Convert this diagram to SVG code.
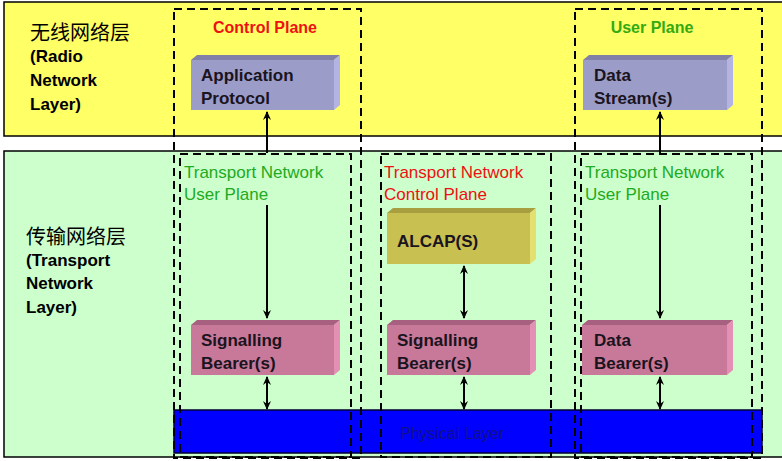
<svg xmlns="http://www.w3.org/2000/svg" width="782" height="461" viewBox="0 0 782 461">
<defs>
<style>
.band{stroke:#000;stroke-width:1.5}
.dash{fill:none;stroke:#000;stroke-width:2;stroke-dasharray:8 5}
.lbl{font-family:"Liberation Sans",Arial,"Noto Sans CJK SC",sans-serif;font-size:17px;font-weight:bold;fill:#000}
.cjk{font-family:"Noto Sans CJK SC","Liberation Sans",sans-serif;font-size:20px;fill:#000}
.btxt{font-family:"Liberation Sans",Arial,sans-serif;font-size:17px;font-weight:bold;fill:#1a1420}
.tn{font-family:"Liberation Sans",Arial,sans-serif;font-size:17px}
.conn line{stroke:#000;stroke-width:2}
</style>
<marker id="ah" markerWidth="10" markerHeight="10" refX="8" refY="5" orient="auto-start-reverse" markerUnits="userSpaceOnUse">
<path d="M0,1 L9,5 L0,9 L3,5 Z" fill="#000"/>
</marker>
</defs>
<rect x="0" y="0" width="782" height="461" fill="#fff"/>
<g id="radio-layer">
<rect class="band" x="4" y="2" width="780" height="134" fill="#ffff66"/>
<text class="cjk" x="30" y="40">无线网络层</text>
<text class="lbl" x="30" y="62">(Radio</text>
<text class="lbl" x="30" y="86">Network</text>
<text class="lbl" x="30" y="110">Layer)</text>
</g>
<g id="transport-layer">
<rect class="band" x="4" y="151" width="780" height="306" fill="#ccffcc"/>
<text class="cjk" x="26" y="244">传输网络层</text>
<text class="lbl" x="26" y="266">(Transport</text>
<text class="lbl" x="26" y="289">Network</text>
<text class="lbl" x="26" y="313">Layer)</text>
</g>
<g id="physical-layer">
<rect x="174" y="410" width="588" height="43" fill="#0000ff" stroke="#000033" stroke-width="1.5"/>
<text x="452" y="439" text-anchor="middle" font-family="Liberation Sans,Arial,sans-serif" font-size="16" fill="#10108a">Physical Layer</text>
</g>
<g id="control-plane">
<rect class="dash" x="174" y="9" width="187" height="449"/>
<text x="265" y="33" text-anchor="middle" font-family="Liberation Sans,Arial,sans-serif" font-size="16" font-weight="bold" fill="#ee1111">Control Plane</text>
</g>
<g id="user-plane">
<rect class="dash" x="575" y="9" width="187" height="449"/>
<text x="652" y="33" text-anchor="middle" font-family="Liberation Sans,Arial,sans-serif" font-size="16" font-weight="bold" fill="#33aa11">User Plane</text>
</g>
<g id="tn-user-plane-1">
<rect class="dash" x="180" y="154" width="171" height="303"/>
<text class="tn" x="184" y="178" fill="#22aa22">Transport Network</text>
<text class="tn" x="184" y="200" fill="#22aa22">User Plane</text>
</g>
<g id="tn-control-plane">
<rect class="dash" x="381" y="154" width="170" height="303"/>
<text class="tn" x="384" y="178" fill="#ee1111">Transport Network</text>
<text class="tn" x="384" y="200" fill="#ee1111">Control Plane</text>
</g>
<g id="tn-user-plane-2">
<rect class="dash" x="581" y="154" width="171" height="303"/>
<text class="tn" x="585" y="178" fill="#22aa22">Transport Network</text>
<text class="tn" x="585" y="200" fill="#22aa22">User Plane</text>
</g>
<g id="application-protocol">
<rect x="191" y="60" width="143" height="50" fill="#9c9cc8"/>
<polygon points="191,60 197,55 340,55 334,60" fill="#8080a8"/>
<polygon points="334,60 340,55 340,105 334,110" fill="#b4b4e4"/>
<text class="btxt" x="201" y="81">Application</text>
<text class="btxt" x="201" y="104">Protocol</text>
</g>
<g id="data-stream">
<rect x="583" y="60" width="144" height="50" fill="#9c9cc8"/>
<polygon points="583,60 589,55 733,55 727,60" fill="#8080a8"/>
<polygon points="727,60 733,55 733,105 727,110" fill="#b4b4e4"/>
<text class="btxt" x="594" y="81">Data</text>
<text class="btxt" x="594" y="104">Stream(s)</text>
</g>
<g id="alcap">
<rect x="387" y="213" width="143" height="51" fill="#c8c050"/>
<polygon points="387,213 393,208 536,208 530,213" fill="#a8a040"/>
<polygon points="530,213 536,208 536,259 530,264" fill="#e4e070"/>
<text class="btxt" x="397" y="247">ALCAP(S)</text>
</g>
<g id="signalling-bearer-1">
<rect x="191" y="325" width="143" height="50" fill="#c87898"/>
<polygon points="191,325 197,320 340,320 334,325" fill="#a86080"/>
<polygon points="334,325 340,320 340,370 334,375" fill="#e490b4"/>
<text class="btxt" x="201" y="346">Signalling</text>
<text class="btxt" x="201" y="369">Bearer(s)</text>
</g>
<g id="signalling-bearer-2">
<rect x="387" y="325" width="143" height="50" fill="#c87898"/>
<polygon points="387,325 393,320 536,320 530,325" fill="#a86080"/>
<polygon points="530,325 536,320 536,370 530,375" fill="#e490b4"/>
<text class="btxt" x="397" y="346">Signalling</text>
<text class="btxt" x="397" y="369">Bearer(s)</text>
</g>
<g id="data-bearer">
<rect x="582" y="325" width="145" height="50" fill="#c87898"/>
<polygon points="582,325 588,320 733,320 727,325" fill="#a86080"/>
<polygon points="727,325 733,320 733,370 727,375" fill="#e490b4"/>
<text class="btxt" x="594" y="346">Data</text>
<text class="btxt" x="594" y="369">Bearer(s)</text>
</g>
<g id="connectors" class="conn">
<line x1="267" y1="153" x2="267" y2="112" marker-end="url(#ah)"/>
<line x1="267" y1="205" x2="267" y2="318" marker-end="url(#ah)"/>
<line x1="267" y1="377" x2="267" y2="409" marker-start="url(#ah)" marker-end="url(#ah)"/>
<line x1="464" y1="266" x2="464" y2="318" marker-start="url(#ah)" marker-end="url(#ah)"/>
<line x1="464" y1="377" x2="464" y2="409" marker-start="url(#ah)" marker-end="url(#ah)"/>
<line x1="660" y1="153" x2="660" y2="112" marker-end="url(#ah)"/>
<line x1="660" y1="205" x2="660" y2="318" marker-end="url(#ah)"/>
<line x1="660" y1="377" x2="660" y2="409" marker-start="url(#ah)" marker-end="url(#ah)"/>
</g>
</svg>
